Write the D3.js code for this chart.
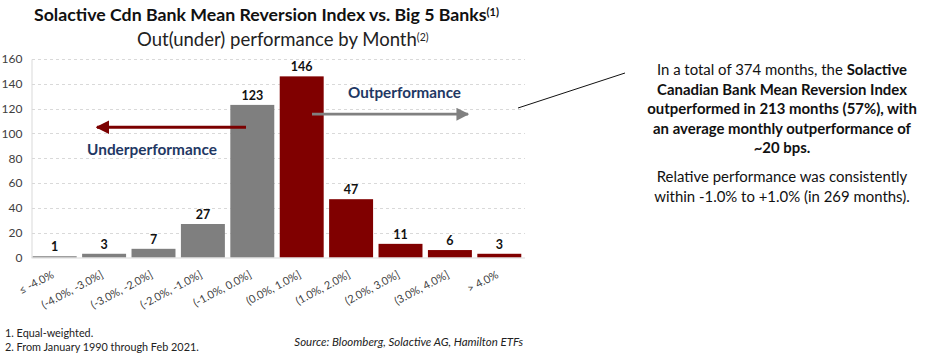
<!DOCTYPE html>
<html>
<head>
<meta charset="utf-8">
<script src="https://cdn.jsdelivr.net/npm/d3@7"></script>
<style>
  html, body { margin: 0; padding: 0; background: #fff; }
  svg { display: block; font-family: Lato, "Open Sans", sans-serif; }
</style>
</head>
<body>
<svg id="chart" width="927" height="357"></svg>
<script>
// ---- data ----
const categories = ["≤ -4.0%", "(-4.0%, -3.0%]", "(-3.0%, -2.0%]", "(-2.0%, -1.0%]", "(-1.0%, 0.0%]",
                    "(0.0%, 1.0%]", "(1.0%, 2.0%]", "(2.0%, 3.0%]", "(3.0%, 4.0%]", "> 4.0%"];
const months = [1, 3, 7, 27, 123, 146, 47, 11, 6, 3];
const groups = ["under", "under", "under", "under", "under", "out", "out", "out", "out", "out"];
const yTicks = [0, 20, 40, 60, 80, 100, 120, 140, 160];

const titleText = "Solactive Cdn Bank Mean Reversion Index vs. Big 5 Banks";
const subtitleText = "Out(under) performance by Month";
const noteLines = [
  [["In a total of 374 months, the ", false], ["Solactive", true]],
  [["Canadian Bank Mean Reversion Index", true]],
  [["outperformed in 213 months (57%), with", true]],
  [["an average monthly outperformance of", true]],
  [["~20 bps.", true]],
  [["Relative performance was consistently", false]],
  [["within -1.0% to +1.0% (in 269 months).", false]]
];
const footnotes = ["1. Equal-weighted.", "2. From January 1990 through Feb 2021."];
const sourceText = "Source: Bloomberg, Solactive AG, Hamilton ETFs";

// ---- setup ----
const svg = d3.select("#chart");
const colors = { under: "#7f7f7f", out: "#800000" };
const navy = "#1f3864";

function fitWidth(sel, target) {
  const node = sel.node();
  const fs = parseFloat(sel.attr("font-size"));
  const w = node.getBBox().width;
  sel.attr("font-size", fs * target / w);
}

const x = d3.scaleBand().domain(categories).range([30, 524]).paddingInner(0.11).paddingOuter(0.055);
const y = d3.scaleLinear().domain([0, 160]).range([257.5, 59]);

// gridlines
svg.append("g").selectAll("line").data(yTicks.filter(d => d > 0)).join("line")
  .attr("x1", 32).attr("x2", 525)
  .attr("y1", d => Math.round(y(d)) + 0.5).attr("y2", d => Math.round(y(d)) + 0.5)
  .attr("stroke", "#d9d9d9").attr("stroke-width", 1).attr("stroke-dasharray", "3,3");

// y axis
const yAxis = svg.append("g").attr("transform", "translate(31.5,0)")
  .call(d3.axisLeft(y).tickValues(yTicks).tickSize(0).tickPadding(9));
yAxis.select(".domain").attr("stroke", "#d9d9d9");
yAxis.selectAll("text").attr("font-family", "Lato, sans-serif").attr("font-size", 12).attr("fill", "#404040");

// bars
svg.append("g").selectAll("rect").data(months).join("rect")
  .attr("x", (d, i) => x(categories[i]))
  .attr("width", x.bandwidth())
  .attr("y", d => y(d))
  .attr("height", d => y(0) - y(d))
  .attr("fill", (d, i) => colors[groups[i]]);

// x axis baseline
svg.append("line").attr("x1", 31.5).attr("x2", 525).attr("y1", 258).attr("y2", 258)
  .attr("stroke", "#d9d9d9").attr("stroke-width", 1);

// value labels
svg.append("g").selectAll("text").data(months).join("text")
  .attr("x", (d, i) => x(categories[i]) + x.bandwidth() / 2)
  .attr("y", d => y(d) - 5)
  .attr("text-anchor", "middle")
  .attr("font-size", 12.5).attr("font-weight", 700).attr("fill", "#111")
  .text(d => d);

// x tick labels
const tickLabels = svg.append("g").selectAll("text").data(categories).join("text")
  .attr("transform", d => `translate(${x(d) + x.bandwidth() / 2},${277}) rotate(-28)`)
  .attr("text-anchor", "end")
  .attr("font-size", 11).attr("fill", "#404040")
  .text(d => d);
{
  const ref = tickLabels.filter((d, i) => i === 8);
  const w = ref.node().getBBox().width;
  tickLabels.attr("font-size", 11 * 60 / w);
}

// arrows
const defs = svg.append("defs");
function arrowMarker(id, color) {
  defs.append("marker").attr("id", id)
    .attr("viewBox", "0 0 10 10").attr("refX", 9).attr("refY", 5)
    .attr("markerWidth", 4.6).attr("markerHeight", 4.6).attr("orient", "auto")
    .attr("markerUnits", "strokeWidth")
    .append("path").attr("d", "M0,0 L10,5 L0,10 Z").attr("fill", color);
}
arrowMarker("arrUnder", "#7b0000");
arrowMarker("arrOut", "#808080");

svg.append("line")
  .attr("x1", 246).attr("x2", 97)
  .attr("y1", y(105)).attr("y2", y(105))
  .attr("stroke", "#7b0000").attr("stroke-width", 3)
  .attr("marker-end", "url(#arrUnder)");

svg.append("line")
  .attr("x1", 312).attr("x2", 468)
  .attr("y1", y(115.5)).attr("y2", y(115.5))
  .attr("stroke", "#808080").attr("stroke-width", 2.8)
  .attr("marker-end", "url(#arrOut)");

const under = svg.append("text").attr("x", 152).attr("y", 155)
  .attr("text-anchor", "middle").attr("font-size", 15).attr("font-weight", 700).attr("fill", navy)
  .text("Underperformance");
fitWidth(under, 130);
const outp = svg.append("text").attr("x", 404.5).attr("y", 98)
  .attr("text-anchor", "middle").attr("font-size", 15).attr("font-weight", 700).attr("fill", navy)
  .text("Outperformance");
fitWidth(outp, 113);

// title
const title = svg.append("text").attr("x", 34).attr("y", 21)
  .attr("font-size", 16).attr("font-weight", 700).attr("fill", "#111");
title.append("tspan").text(titleText);
fitWidth(title, 453);
title.append("tspan").attr("font-size", 11).attr("dy", -5).text("(1)");

const sub = svg.append("text").attr("x", 137).attr("y", 46)
  .attr("font-size", 14).attr("fill", "#222");
sub.append("tspan").text(subtitleText);
fitWidth(sub, 280);
sub.append("tspan").attr("font-size", 10.5).attr("dy", -5).text("(2)");

// callout line
svg.append("line").attr("x1", 518).attr("y1", 108).attr("x2", 625).attr("y2", 73)
  .attr("stroke", "#111").attr("stroke-width", 1);

// right paragraph
const lineY = [75, 94.5, 114, 133.5, 153, 182, 201.5];
const para = svg.append("g");
const paraTexts = noteLines.map((parts, i) => {
  const t = para.append("text").attr("x", 782).attr("y", lineY[i])
    .attr("text-anchor", "middle").attr("font-size", 14).attr("fill", "#111");
  parts.forEach(([s, b]) => t.append("tspan").attr("font-weight", b ? 700 : 400).text(s));
  return t;
});
{
  const w = paraTexts[2].node().getBBox().width;
  const fs = 14 * 270 / w;
  paraTexts.forEach(t => t.attr("font-size", fs));
}

// footnotes
const fn = footnotes.map((f, i) => svg.append("text").attr("x", 5).attr("y", 337 + i * 14)
  .attr("font-size", 10.5).attr("fill", "#222").text(f));
{
  const w = fn[1].node().getBBox().width;
  const fs = 10.5 * 194 / w;
  fn.forEach(t => t.attr("font-size", fs));
}
const src = svg.append("text").attr("x", 523).attr("y", 346)
  .attr("text-anchor", "end").attr("font-size", 10.5).attr("font-style", "italic").attr("fill", "#222")
  .text(sourceText);
fitWidth(src, 229);
</script>
</body>
</html>
